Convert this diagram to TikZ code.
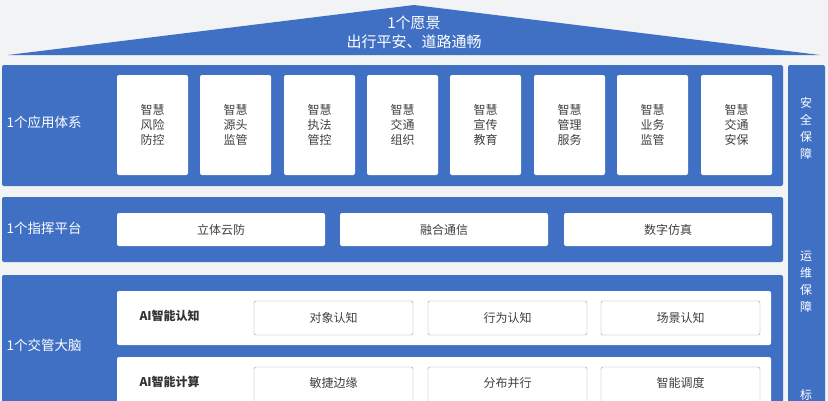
\documentclass[tikz,border=0pt]{standalone}
\usepackage{fontspec}
\setmainfont{Noto Sans CJK SC}
\begin{document}
\begin{tikzpicture}[x=1pt,y=-1pt,
  band/.style={fill=bl,rounded corners=2pt},
  card/.style={fill=white,rounded corners=2pt,align=center,font=\fontsize{12}{15}\selectfont,text=black!75},
  obox/.style={draw=black!40,fill=white,rounded corners=2pt,font=\fontsize{12}{14}\selectfont,text=black!75},
  lbl/.style={anchor=west,text=white,font=\fontsize{13.5}{15}\selectfont}]
\definecolor{bl}{HTML}{4070C4}
\definecolor{bg}{HTML}{F2F3F5}
\fill[bg] (0,0) rectangle (828,400);
\useasboundingbox (0,0) rectangle (828,400);
% roof
\fill[bl] (8,55) -- (414,5) -- (820,55) -- cycle;
\node[text=white,align=center,font=\fontsize{15}{19}\selectfont] (roof) at (414,32) {1个愿景\\出行平安、道路通畅};
% bands
\fill[band] (2,65) rectangle (783,186);
\fill[band] (2,197) rectangle (783,262);
\fill[band] (2,275) rectangle (783,405);
\fill[band] (788,65) rectangle (825,405);
\node[lbl] (l1) at (3,122) {1个应用体系};
\node[lbl] (l2) at (3,228) {1个指挥平台};
\node[lbl] (l3) at (3,345) {1个交管大脑};
% cards
\foreach \x/\t [count=\i] in {117/风险\\防控,200/源头\\监管,284/执法\\管控,367/交通\\组织,450/宣传\\教育,534/管理\\服务,617/业务\\监管,701/交通\\安保}{
  \fill[white,rounded corners=2pt] (\x,75) rectangle ++(71,100);
  \node[card] (c\i) at (\x+35.5,125) {智慧\\\t};
}
\foreach \x/\t [count=\i] in {117/立体云防,340/融合通信,564/数字仿真}{
  \fill[white,rounded corners=2pt] (\x,213) rectangle ++(208,33);
  \node[card] (p\i) at (\x+104,229.5) {\t};
}
\fill[white,rounded corners=2pt] (117,291) rectangle (771,345);
\fill[white,rounded corners=2pt] (117,357) rectangle (771,410);
\node[anchor=west,font=\fontsize{12}{14}\selectfont\bfseries,text=black!80] (a1) at (136,316) {AI智能认知};
\node[anchor=west,font=\fontsize{12}{14}\selectfont\bfseries,text=black!80] (a2) at (136,382) {AI智能计算};
\foreach \x/\t [count=\i] in {254/对象认知,428/行为认知,601/场景认知}{
  \draw[obox] (\x,301) rectangle ++(159,34);
  \node[text=black!75,font=\fontsize{12}{14}\selectfont] (r\i) at (\x+79.5,318) {\t};
}
\foreach \x/\t [count=\i] in {254/敏捷边缘,428/分布并行,601/智能调度}{
  \draw[obox] (\x,367) rectangle ++(159,40);
  \node[text=black!75,font=\fontsize{12}{14}\selectfont] (s\i) at (\x+79.5,383) {\t};
}
\node[text=white,align=center,font=\fontsize{12}{17}\selectfont] (v1) at (806,128) {安\\全\\保\\障};
\node[text=white,align=center,font=\fontsize{12}{17}\selectfont] (v2) at (806,282) {运\\维\\保\\障};
\node[text=white,font=\fontsize{12}{17}\selectfont] (v3) at (806,395) {标};
\end{tikzpicture}
\end{document}
